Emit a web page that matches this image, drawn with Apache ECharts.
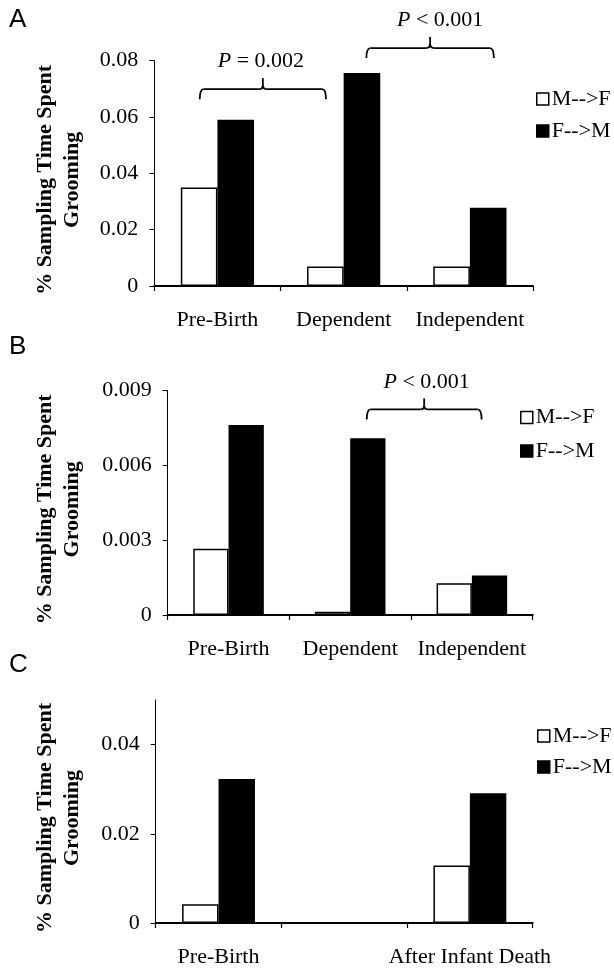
<!DOCTYPE html>
<html>
<head>
<meta charset="utf-8">
<script src="https://cdn.jsdelivr.net/npm/echarts@6/dist/echarts.min.js"></script>
<style>
html,body{margin:0;padding:0;background:#fff;}
#chart{width:614px;height:968px;}
</style>
</head>
<body>
<div id="chart"></div>
<script>
// ---- data ----
const categoriesAB = ['Pre-Birth', 'Dependent', 'Independent'];
const categoriesC = ['Pre-Birth', '', 'After Infant Death'];
const seriesNames = ['M-->F', 'F-->M'];
const mfA = [0.035, 0.0069, 0.0069];
const fmA = [0.059, 0.0756, 0.0278];
const mfB = [0.00266, 0.00013, 0.00127];
const fmB = [0.00762, 0.00709, 0.00158];
const mfC = [0.0042, null, 0.0129];
const fmC = [0.0323, null, 0.0291];
const ticksA = [0, 0.02, 0.04, 0.06, 0.08];
const ticksB = [0, 0.003, 0.006, 0.009];
const ticksC = [0, 0.02, 0.04];
const panelLetters = ['A', 'B', 'C'];
const yTitle = '% Sampling Time Spent\nGrooming';
// significance brackets: panel, from/to in category units, level in data units
const bracketPanels = [0, 0, 1];
const bracketFrom = [-0.14, 1.18, 1.136];
const bracketTo = [0.86, 2.19, 2.08];
const bracketLevel = [0.0699, 0.0845, 0.00825];
const bracketText = ['= 0.002', '< 0.001', '< 0.001'];

// ---- styles ----
const SERIF = 'Liberation Serif, Times New Roman, serif';
const SANS = 'Liberation Sans, Arial, sans-serif';
const grids = [
  {left: 154.3, top: 60.7, width: 378.7, height: 225.3},
  {left: 167.7, top: 390.7, width: 365, height: 224.3},
  {left: 155.7, top: 700, width: 377, height: 225.7}
];
const yMax = [0.08, 0.009, 0.05];
const yInterval = [0.02, 0.003, 0.02];
const yTicks = [ticksA, ticksB, ticksC];
const nameGaps = [68, 81.5, 69.5];
const legendPos = [
  {left: 536, top: 88, itemGap: 10},
  {left: 520, top: 406.5, itemGap: 11.5},
  {left: 537, top: 725, itemGap: 9}
];
const letterTops = [7, 334, 652];

const chart = echarts.init(document.getElementById('chart'), null, {renderer: 'canvas'});

const xAxes = [], yAxes = [], series = [], legends = [], titles = [];
const catsPerPanel = [categoriesAB, categoriesAB, categoriesC];
const mfPerPanel = [mfA, mfB, mfC];
const fmPerPanel = [fmA, fmB, fmC];

for (let g = 0; g < 3; g++) {
  xAxes.push({
    type: 'category', gridIndex: g, data: catsPerPanel[g],
    axisLine: {lineStyle: {color: '#000', width: 2}},
    axisTick: {show: true, length: 5, lineStyle: {color: '#000', width: 1.2}},
    axisLabel: {color: '#000', fontFamily: SERIF, fontSize: 22, margin: 23, interval: 0},
    splitLine: {show: false}
  });
  yAxes.push({
    type: 'value', gridIndex: g, min: 0, max: yMax[g], interval: yInterval[g],
    axisLine: {show: true, lineStyle: {color: '#000', width: 1}},
    axisTick: {show: true, length: 5, lineStyle: {color: '#000', width: 1}, customValues: yTicks[g]},
    axisLabel: {color: '#000', fontFamily: SERIF, fontSize: 22, margin: 16, customValues: yTicks[g]},
    splitLine: {show: false},
    name: yTitle, nameLocation: 'middle', nameGap: nameGaps[g], nameRotate: 90,
    nameTextStyle: {color: '#000', fontFamily: SERIF, fontSize: 22, fontWeight: 'bold', lineHeight: 27, align: 'center', padding: [0, 13, 0, 0]}
  });
  series.push({
    type: 'bar', name: seriesNames[0], xAxisIndex: g, yAxisIndex: g,
    data: mfPerPanel[g], barGap: '0%', barCategoryGap: '42%',
    itemStyle: {color: '#fff', borderColor: '#000', borderWidth: 1.5}
  });
  series.push({
    type: 'bar', name: seriesNames[1], xAxisIndex: g, yAxisIndex: g,
    data: fmPerPanel[g], barGap: '0%', barCategoryGap: '42%',
    itemStyle: {color: '#000', borderColor: '#000', borderWidth: 1.5}
  });
  legends.push({
    orient: 'vertical', left: legendPos[g].left, top: legendPos[g].top, itemGap: legendPos[g].itemGap,
    itemWidth: 12, itemHeight: 12, icon: 'rect', selectedMode: false, padding: 0,
    data: [
      {name: seriesNames[0], itemStyle: {color: '#fff', borderColor: '#000', borderWidth: 1.5}},
      {name: seriesNames[1], itemStyle: {color: '#000', borderColor: '#000', borderWidth: 1.5}}
    ],
    textStyle: {color: '#000', fontFamily: SERIF, fontSize: 22, padding: [0, 0, 0, -2]}
  });
  titles.push({
    text: panelLetters[g], left: 9, top: letterTops[g], padding: 0,
    textStyle: {color: '#000', fontFamily: SANS, fontSize: 26, fontWeight: 'normal'}
  });
}

chart.setOption({
  animation: false,
  backgroundColor: '#fff',
  title: titles,
  grid: grids,
  xAxis: xAxes,
  yAxis: yAxes,
  series: series,
  legend: legends
});

// brackets built from the axes' own scales
function catPx(g, pos) {
  const cats = catsPerPanel[g];
  const p0 = chart.convertToPixel({xAxisIndex: g}, cats[0]);
  const p1 = chart.convertToPixel({xAxisIndex: g}, cats[1]);
  return p0 + pos * (p1 - p0);
}
const textDx = [-2, 10, 2.5];
const graphics = [];
const stroke = {stroke: '#000', lineWidth: 1.8, fill: null};
function seg(x1, y1, x2, y2) {
  graphics.push({type: 'line', shape: {x1, y1, x2, y2}, style: stroke, silent: true});
}
function curve(x1, y1, x2, y2, cx, cy) {
  graphics.push({type: 'bezierCurve', shape: {x1, y1, x2, y2, cpx1: cx, cpy1: cy}, style: stroke, silent: true});
}
for (let i = 0; i < bracketPanels.length; i++) {
  const g = bracketPanels[i];
  const x1 = catPx(g, bracketFrom[i]);
  const x2 = catPx(g, bracketTo[i]);
  const xm = (x1 + x2) / 2;
  const y = chart.convertToPixel({yAxisIndex: g}, bracketLevel[i]);
  const yEnd = y + 10, yTop = y - 11, r = 4;
  curve(x1, yEnd, x1 + r, y, x1, y);
  seg(x1 + r, y, xm - r, y);
  curve(xm - r, y, xm, y - r, xm, y);
  seg(xm, y - r, xm, yTop);
  curve(xm, y - r, xm + r, y, xm, y);
  seg(xm + r, y, x2 - r, y);
  curve(x2 - r, y, x2, yEnd, x2, y);
  graphics.push({
    type: 'text', x: xm + textDx[i], y: y - 27.5, silent: true,
    style: {
      text: '{i|P}{n| ' + bracketText[i] + '}',
      align: 'center', verticalAlign: 'middle',
      fontFamily: SERIF, fontSize: 22, fill: '#000',
      rich: {
        i: {fontStyle: 'italic', fontFamily: SERIF, fontSize: 22, fill: '#000'},
        n: {fontFamily: SERIF, fontSize: 22, fill: '#000'}
      }
    }
  });
}
chart.setOption({graphic: graphics});
</script>
</body>
</html>
